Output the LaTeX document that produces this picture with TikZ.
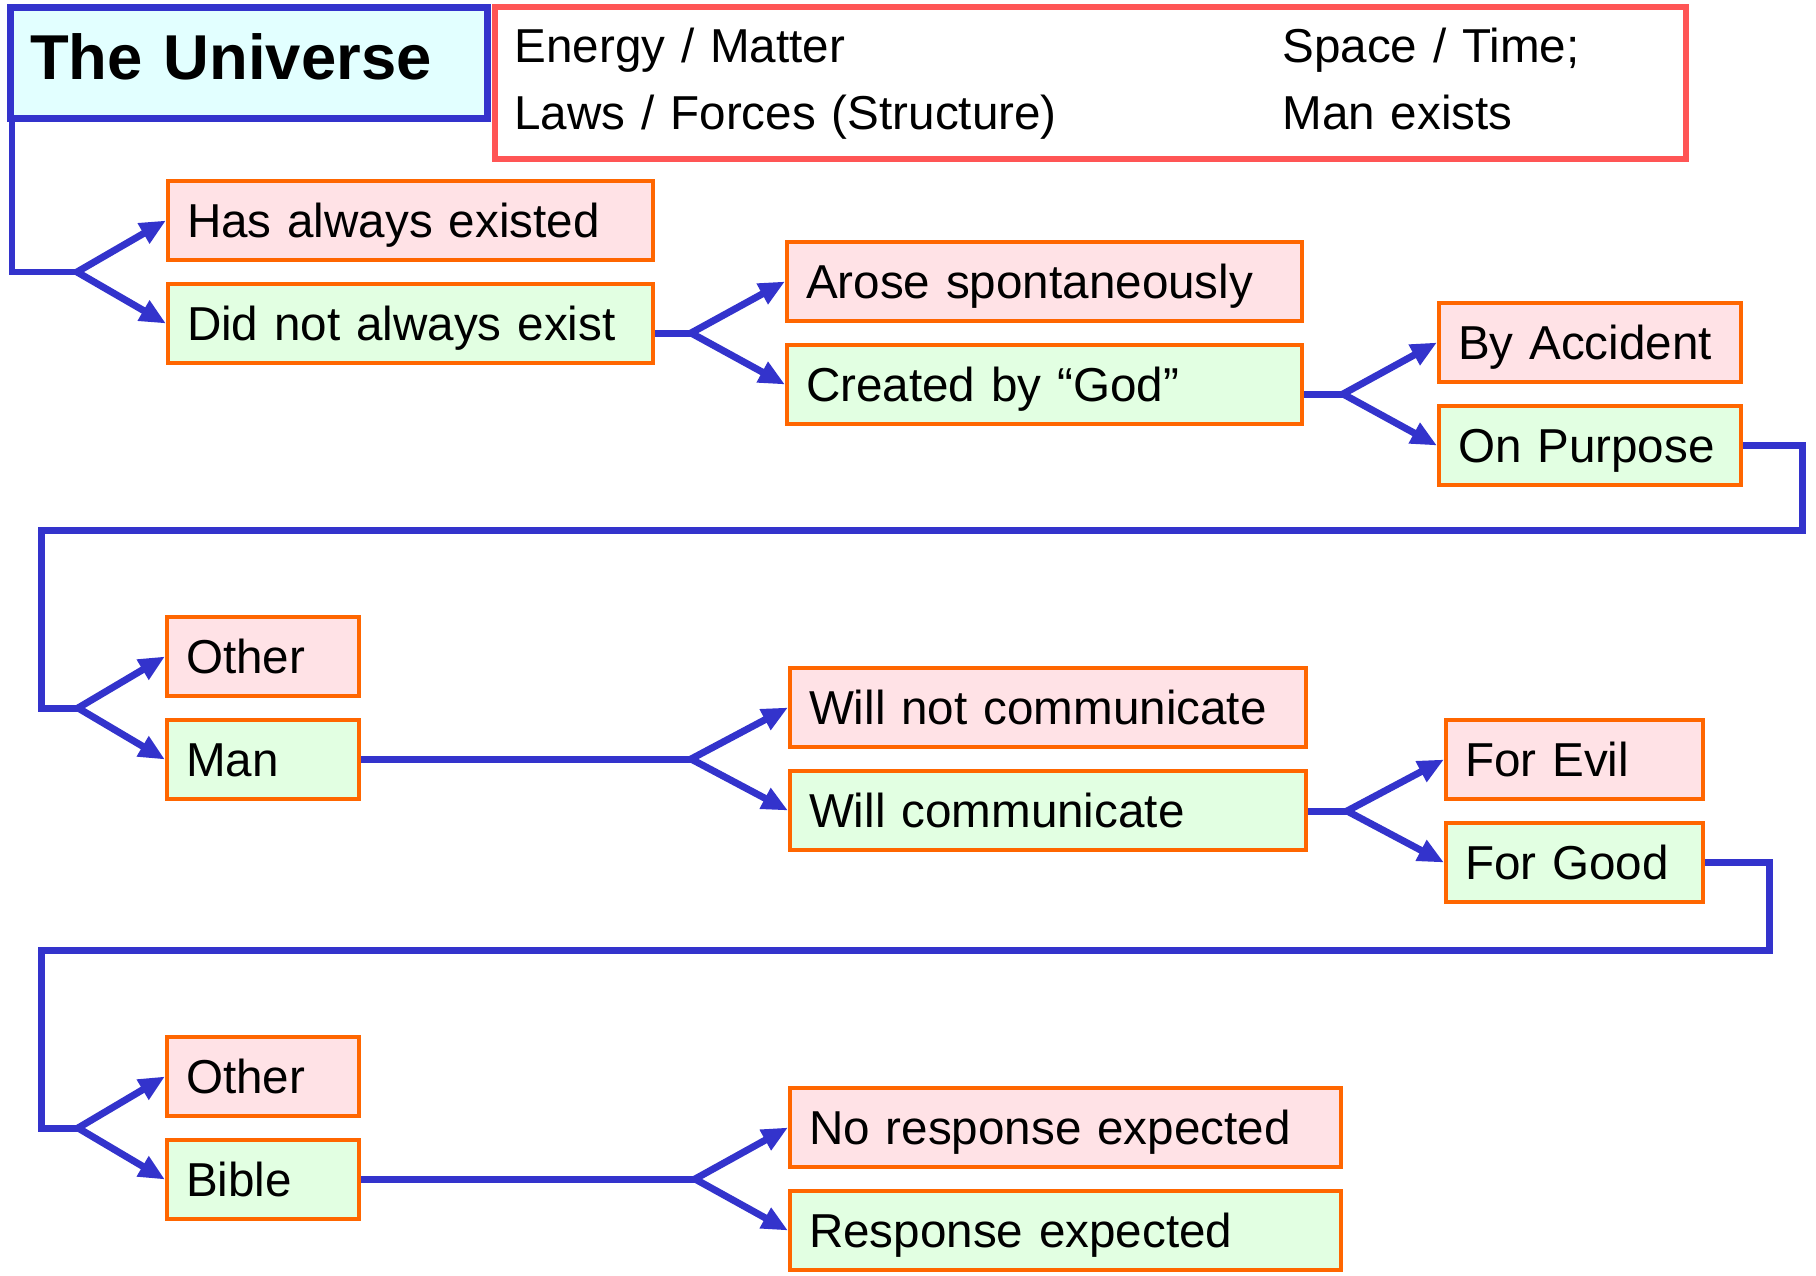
\documentclass[tikz,border=0pt]{standalone}
\usepackage{fontspec}
\setmainfont{Liberation Sans}
\usepackage{xcolor}
\usepackage{tikz}
\usetikzlibrary{arrows.meta, positioning, calc}
\definecolor{linkblue}{HTML}{3333CC}
\definecolor{optedge}{HTML}{FF6600}
\definecolor{factedge}{HTML}{FF5555}
\definecolor{nofill}{HTML}{FFE2E6}
\definecolor{yesfill}{HTML}{E2FFE2}
\definecolor{titlefill}{HTML}{E2FFFF}
\newcommand{\optfont}{\fontsize{23.8}{28}\selectfont}
\tikzset{
    option/.style={draw=optedge, line width=2pt, anchor=north west,
                   text width=#1, inner xsep=9.5pt, minimum height=39.5pt,
                   align=left, text height=17pt, text depth=0pt, font=\optfont},
    nobox/.style={option=#1, fill=nofill},
    yesbox/.style={option=#1, fill=yesfill},
    link/.style={draw=linkblue, line width=3.5pt},
    fork/.style={link, <->}
}

\begin{document}
\begin{tikzpicture}[x=0.5pt, y=-0.5pt, >={Triangle[length=13pt,width=11pt]}]
        \useasboundingbox (0,0) rectangle (1816,1275);
        \node[draw=linkblue, fill=titlefill, line width=3.5pt, anchor=north west,
              text width=219pt, inner xsep=9.75pt, minimum height=55.5pt,
              text height=23pt, text depth=6.5pt, align=left,
              font=\fontsize{31.7}{36}\selectfont\bfseries] (univ) at (7,4) {The Universe};
        \node[draw=factedge, line width=3pt, anchor=north west, text width=576pt,
              inner xsep=9.75pt, minimum height=76pt, align=left,
              font=\fontsize{23.8}{33.5}\selectfont] (facts) at (492,4) {%
            \begin{tabular}{@{}p{384pt}@{}l@{}}
            Energy / Matter & Space / Time;\\
            Laws / Forces (Structure) & Man exists
            \end{tabular}};

        \node[nobox=223.5pt] (has) at (166,179) {Has always existed};
        \node[yesbox=223.5pt, below=10pt of has] (did) {Did not always exist};
        \node[nobox=238.5pt] (arose) at (785,240) {Arose spontaneously};
        \node[yesbox=238.5pt, below=10pt of arose] (created) {Created by “God”};
        \node[nobox=132pt] (accident) at (1437,301) {By Accident};
        \node[yesbox=132pt, below=10pt of accident] (purpose) {On Purpose};

        \node[nobox=77pt] (other) at (165,615) {Other};
        \node[yesbox=77pt, below=10pt of other] (man) {Man};
        \node[nobox=239pt] (wontspeak) at (788,666) {Will not communicate};
        \node[yesbox=239pt, below=10pt of wontspeak] (speaks) {Will communicate};
        \node[nobox=109.5pt] (evil) at (1444,718) {For Evil};
        \node[yesbox=109.5pt, below=10pt of evil] (good) {For Good};

        \node[nobox=77pt] (otherbook) at (165,1035) {Other};
        \node[yesbox=77pt, below=10pt of otherbook] (bible) {Bible};
        \node[nobox=256.5pt] (noreply) at (788,1086) {No response expected};
        \node[yesbox=256.5pt, below=10pt of noreply] (reply) {Response expected};

        \coordinate (b1) at ($(has.west)!.5!(did.west)+(-89,0)$);
        \coordinate (b2) at ($(arose.west)!.5!(created.west)+(-94,0)$);
        \coordinate (b3) at ($(accident.west)!.5!(purpose.west)+(-94,0)$);
        \coordinate (b4) at ($(other.west)!.5!(man.west)+(-87,0)$);
        \coordinate (b5) at ($(wontspeak.west)!.5!(speaks.west)+(-97,0)$);
        \coordinate (b6) at ($(evil.west)!.5!(good.west)+(-97,0)$);
        \coordinate (b7) at ($(otherbook.west)!.5!(bible.west)+(-87,0)$);
        \coordinate (b8) at ($(noreply.west)!.5!(reply.west)+(-93,0)$);
        \coordinate (turn1) at (1802,530);
        \coordinate (turn2) at (41,530);
        \coordinate (turn3) at (1769,950);
        \coordinate (turn4) at (41,950);

        \draw[link, line width=2.6pt] ([xshift=2.5pt]univ.south west) |- (b1);
        \draw[fork] (has.west) -- (b1) -- (did.west);
        \draw[link] (did.east |- b2) -- (b2);
        \draw[fork] (arose.west) -- (b2) -- (created.west);
        \draw[link] (created.east |- b3) -- (b3);
        \draw[fork] (accident.west) -- (b3) -- (purpose.west);
        \draw[link] (purpose.east) -| (turn1) -- (turn2) |- (b4);
        \draw[fork] (other.west) -- (b4) -- (man.west);
        \draw[link] (man.east |- b5) -- (b5);
        \draw[fork] (wontspeak.west) -- (b5) -- (speaks.west);
        \draw[link] (speaks.east |- b6) -- (b6);
        \draw[fork] (evil.west) -- (b6) -- (good.west);
        \draw[link] (good.east) -| (turn3) -- (turn4) |- (b7);
        \draw[fork] (otherbook.west) -- (b7) -- (bible.west);
        \draw[link] (bible.east |- b8) -- (b8);
        \draw[fork] (noreply.west) -- (b8) -- (reply.west);
    \end{tikzpicture}
\end{document}
